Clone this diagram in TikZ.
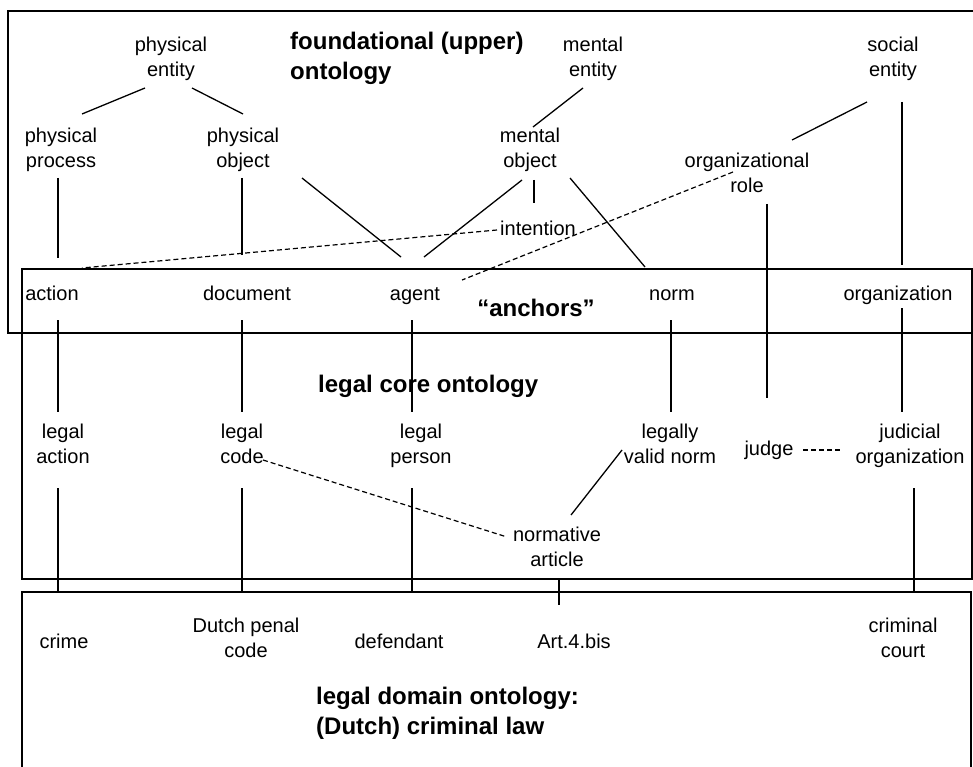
\documentclass[tikz,border=0pt]{standalone}
\usepackage{fontspec}
\setmainfont{Liberation Sans}
\usetikzlibrary{calc}
\newcommand\lblstrut{\rule[-5pt]{0pt}{26pt}}
\begin{document}
\begin{tikzpicture}[x=1pt,y=-1pt,
 lbl/.style={font=\fontsize{20}{25}\selectfont, align=center, inner sep=0pt,
   execute at begin node=\lblstrut, execute at end node=\lblstrut},
 ttl/.style={font=\fontsize{24}{30}\selectfont\bfseries, align=left, inner sep=0pt, anchor=west},
 conn/.style={line width=1.3pt},
 dconn/.style={line width=1.2pt, dash pattern=on 5pt off 3pt},
 frame/.style={line width=1.8pt}]
\fill[white] (0,0) rectangle (973,767);
\useasboundingbox (0,0) rectangle (973,767);
% boxes
\draw[frame] (8,11) rectangle (985,333);
\draw[frame] (22,269) rectangle (972,579);
\draw[frame] (22,592) rectangle (971,790);
% titles
\node[ttl] (t1) at (290,58) {foundational (upper)\\ontology};
\node[ttl,anchor=center] (t2) at (536,308) {“anchors”};
\node[ttl] (t3) at (318,386) {legal core ontology};
\node[ttl] (t4) at (316,713) {legal domain ontology:\\(Dutch) criminal law};
% upper nodes
\node[lbl] (pe) at (171,59) {physical\\entity};
\node[lbl] (me) at (593,59) {mental\\entity};
\node[lbl] (se) at (893,59) {social\\entity};
\node[lbl] (pp) at (61,150) {physical\\process};
\node[lbl] (po) at (243,150) {physical\\object};
\node[lbl] (mo) at (530,150) {mental\\object};
\node[lbl] (orole) at (747,175) {organizational\\role};
\node[lbl] (intn) at (538,228) {intention};
% anchors
\node[lbl] (act) at (52,292) {action};
\node[lbl] (doc) at (247,292) {document};
\node[lbl] (agent) at (415,292) {agent};
\node[lbl] (norm) at (672,292) {norm};
\node[lbl] (org) at (898,292) {organization};
% core
\node[lbl] (la) at (63,446) {legal\\action};
\node[lbl] (lc) at (242,446) {legal\\code};
\node[lbl] (lp) at (421,446) {legal\\person};
\node[lbl] (lvn) at (670,446) {legally\\valid norm};
\node[lbl] (judge) at (769,447) {judge};
\node[lbl] (jo) at (910,446) {judicial\\organization};
\node[lbl] (na) at (557,549) {normative\\article};
% domain
\node[lbl] (crime) at (64,640) {crime};
\node[lbl] (dpc) at (246,640) {Dutch penal\\code};
\node[lbl] (def) at (399,640) {defendant};
\node[lbl] (art) at (574,640) {Art.4.bis};
\node[lbl] (cc) at (903,640) {criminal\\court};
% connectors upper
\draw[conn] ($(pe.center)+(-26,29)$) -- ($(pp.center)+(21,-36)$);
\draw[conn] ($(pe.center)+(21,29)$) -- ($(po.center)+(0,-36)$);
\draw[conn] ($(me.center)+(-10,29)$) -- ($(mo.center)+(3,-23)$);
\draw[conn] ($(se.center)+(-26,43)$) -- ($(orole.center)+(45,-35)$);
\draw[conn] ($(se.center)+(9,43)$) -- ($(org.center)+(4,-27)$);
\draw[conn] ($(pp.center)+(-3,28)$) -- ($(act.center)+(6,-34)$);
\draw[conn] ($(po.center)+(-1,28)$) -- ($(doc.center)+(-5,-37)$);
\draw[conn] ($(po.center)+(59,28)$) -- ($(agent.center)+(-14,-35)$);
\draw[conn] ($(mo.center)+(-8,30)$) -- ($(agent.center)+(9,-35)$);
\draw[conn] ($(mo.center)+(4,30)$) -- ($(intn.center)+(-4,-25)$);
\draw[conn] ($(mo.center)+(40,28)$) -- ($(norm.center)+(-27,-25)$);
\draw[dconn] ($(intn.center)+(-41,2)$) -- ($(act.center)+(30,-24)$);
\draw[dconn] ($(orole.center)+(-14,-3)$) -- ($(agent.center)+(47,-12)$);
\draw[conn] ($(orole.center)+(20,29)$) -- ($(judge.center)+(-2,-49)$);
% anchors to core
\draw[conn] ($(act.center)+(6,28)$) -- ($(la.center)+(-5,-34)$);
\draw[conn] ($(doc.center)+(-5,28)$) -- ($(lc.center)+(0,-34)$);
\draw[conn] ($(agent.center)+(-3,28)$) -- ($(lp.center)+(-9,-34)$);
\draw[conn] ($(norm.center)+(-1,28)$) -- ($(lvn.center)+(1,-34)$);
\draw[conn] ($(org.center)+(4,16)$) -- ($(jo.center)+(-8,-34)$);
% core internal
\draw[dconn] ($(judge.center)+(34,3)$) -- ($(jo.center)+(-68,4)$);
\draw[dconn] ($(lc.center)+(21,14)$) -- ($(na.center)+(-50,-12)$);
\draw[conn] ($(na.center)+(14,-34)$) -- ($(lvn.center)+(-48,4)$);
% core to domain
\draw[conn] ($(la.center)+(-5,42)$) -- ($(crime.center)+(-6,-48)$);
\draw[conn] ($(lc.center)+(0,42)$) -- ($(dpc.center)+(-4,-48)$);
\draw[conn] ($(lp.center)+(-9,42)$) -- ($(def.center)+(13,-48)$);
\draw[conn] ($(na.center)+(2,31)$) -- ($(art.center)+(-15,-35)$);
\draw[conn] ($(jo.center)+(4,42)$) -- ($(cc.center)+(11,-48)$);
\end{tikzpicture}
\end{document}
